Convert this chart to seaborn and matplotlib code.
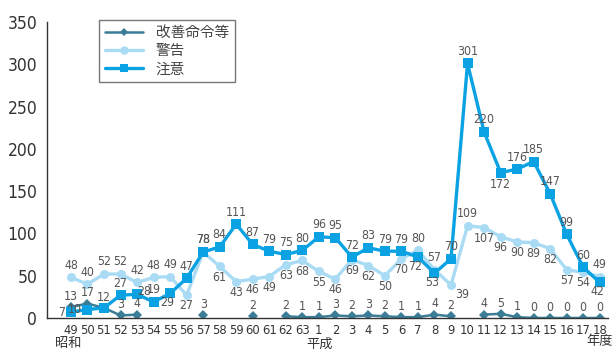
import numpy as np
import pandas as pd
import matplotlib
matplotlib.use("Agg")
import matplotlib.pyplot as plt
import seaborn as sns
from matplotlib import font_manager
from matplotlib.font_manager import FontProperties
from matplotlib.lines import Line2D

categories = ["49", "50", "51", "52", "53", "54", "55", "56", "57", "58", "59", "60", "61", "62", "63",
              "1", "2", "3", "4", "5", "6", "7", "8", "9", "10", "11", "12", "13", "14", "15", "16", "17", "18"]
kaizen = [13, 17, 12, 3, 4, None, None, None, 3, None, None, 2, None, 2, 1,
          1, 3, 2, 3, 2, 1, 1, 4, 2, None, 4, 5, 1, 0, 0, 0, 0, 0]
keikoku = [48, 40, 52, 52, 42, 48, 49, 27, 78, 61, 43, 46, 49, 63, 68,
           55, 46, 69, 62, 50, 70, 80, 57, 39, 109, 107, 96, 90, 89, 82, 57, 54, 49]
chui = [7, 10, 12, 27, 28, 19, 29, 47, 78, 84, 111, 87, 79, 75, 80,
        96, 95, 72, 83, 79, 79, 72, 53, 70, 301, 220, 172, 176, 185, 147, 99, 60, 42]
series_names = ["改善命令等", "警告", "注意"]
era_labels = ["昭和", "平成"]
unit_label = "年度"

sns.set_theme(style="white")
plt.rcParams["font.family"] = ["DejaVu Sans", "Noto Sans CJK JP"]

# find a narrow font for numbers
cands = []
for f in font_manager.fontManager.ttflist:
    nm = f.name
    fn = f.fname.lower()
    if "bold" in fn or "oblique" in fn or "italic" in fn or "mono" in fn:
        continue
    if nm == "Liberation Sans Narrow":
        cands.append((0, f.fname))
    elif "condensed" in fn or "narrow" in fn:
        cands.append((1, f.fname))
    elif nm == "Roboto" and "regular" in fn:
        cands.append((2, f.fname))
    elif nm == "Liberation Sans" and "regular" in fn:
        cands.append((3, f.fname))
cands.sort()
num_path = cands[0][1] if cands else None


def numfont(size):
    if num_path:
        return FontProperties(fname=num_path, size=size)
    return FontProperties(family="DejaVu Sans", size=size)


c_kai = "#3b7c96"
c_kei = "#a9dcf4"
c_chu = "#0aa2e2"

fig = plt.figure(figsize=(6.16, 3.52), dpi=100)
ax = fig.add_axes([47 / 616, 1 - 318 / 352, (608 - 47) / 616, (318 - 22) / 352])

x = np.arange(len(categories))
kai_arr = np.array([np.nan if v is None else v for v in kaizen], dtype=float)

seg = np.cumsum(np.isnan(kai_arr).astype(int))
df_kai = pd.DataFrame({"x": x, "y": kai_arr, "seg": seg}).dropna()

sns.lineplot(data=df_kai, x="x", y="y", units="seg", estimator=None, color=c_kai,
             marker="D", markersize=5, markeredgewidth=0, linewidth=1.8, ax=ax, sort=False)
sns.lineplot(x=x, y=keikoku, color=c_kei, marker="o", markersize=6.5, markeredgewidth=0,
             linewidth=2.4, ax=ax, sort=False)
sns.lineplot(x=x, y=chui, color=c_chu, marker="s", markersize=7, markeredgewidth=0,
             linewidth=2.4, ax=ax, sort=False)

ax.set_xlim(-1.45, len(categories) - 0.5)
ax.set_ylim(0, 350)
ax.set_yticks(np.arange(0, 351, 50))
ax.set_xticks(x)
ax.set_xticklabels(categories)
ax.set_xticks(np.arange(-0.5, len(categories), 1), minor=True)
ax.tick_params(axis="x", which="major", length=0, colors="#333333", pad=4)
ax.tick_params(axis="x", which="minor", length=4, direction="in", color="#333333", width=0.9)
ax.tick_params(axis="y", length=4, direction="in", colors="#333333", width=0.9, pad=7)
ax.set_xlabel("")
ax.set_ylabel("")
for s in ["top", "right"]:
    ax.spines[s].set_visible(False)
for s in ["left", "bottom"]:
    ax.spines[s].set_color("#333333")
    ax.spines[s].set_linewidth(1.0)

# fit the x tick label size so that two-digit labels fit the category width
renderer = fig.canvas.get_renderer()
spacing_px = ax.transData.transform((1, 0))[0] - ax.transData.transform((0, 0))[0]
tick_size = 12.0
while tick_size > 7:
    fp = numfont(tick_size)
    t = fig.text(0, 0, "88", fontproperties=fp)
    wpx = t.get_window_extent(renderer).width
    t.remove()
    if wpx <= spacing_px - 2.0:
        break
    tick_size -= 0.25
lab_size = tick_size * 0.95

for t in ax.get_xticklabels():
    t.set_fontproperties(numfont(tick_size))
for t in ax.get_yticklabels():
    t.set_fontproperties(numfont(12.5))

lab_kw = dict(textcoords="offset points", color="#555555",
              fontproperties=numfont(lab_size))
n = len(categories)
for i in x:
    k = kai_arr[i]
    has_k = not np.isnan(k)
    if has_k:
        ax.annotate(f"{int(k)}", (i, k), xytext=(0, 3), va="bottom", ha="center", **lab_kw)
    w = keikoku[i]
    c = chui[i]
    # 警告 label
    if w >= c or (w > 100 and c > 250):
        ax.annotate(f"{w}", (i, w), xytext=(0, 4), va="bottom", ha="center", **lab_kw)
    elif has_k and (w - k) < 40:
        ax.annotate(f"{w}", (i, w), xytext=(3, -2), va="top", ha="left", **lab_kw)
    else:
        ax.annotate(f"{w}", (i, w), xytext=(0, -3), va="top", ha="center", **lab_kw)
    # 注意 label
    if has_k and c == k:
        continue  # same value as the kaizen label right there
    close_k = has_k and abs(c - k) < 10
    local_min = 0 < i < n - 1 and c < chui[i - 1] and c < chui[i + 1] and chui[i - 1] - c > 40
    if close_k:
        ax.annotate(f"{c}", (i, c), xytext=(-4, 0), va="center", ha="right", **lab_kw)
    elif local_min:
        ax.annotate(f"{c}", (i, c), xytext=(0, -4), va="top", ha="center", **lab_kw)
    elif c >= w or (w - c) > 20:
        ax.annotate(f"{c}", (i, c), xytext=(0, 4), va="bottom", ha="center", **lab_kw)
    elif has_k and (c - k) < 30:
        ax.annotate(f"{c}", (i, c), xytext=(0, 2), va="center", ha="left", **lab_kw)
    else:
        ax.annotate(f"{c}", (i, c), xytext=(-2, -2), va="top", ha="center", **lab_kw)

cjk = ["Noto Sans CJK JP"]
fig.text(68 / 616, 1 - 344 / 352, era_labels[0], ha="center", va="center", fontsize=9.5,
         color="#333333", family=cjk)
fig.text(320 / 616, 1 - 344 / 352, era_labels[1], ha="center", va="center", fontsize=9.5,
         color="#333333", family=cjk)
fig.text(600 / 616, 1 - 342 / 352, unit_label, ha="center", va="center", fontsize=9.5,
         color="#333333", family=cjk)

handles = [
    Line2D([], [], color=c_kai, marker="D", markersize=4, markeredgewidth=0, linewidth=1.8),
    Line2D([], [], color=c_kei, marker="o", markersize=6, markeredgewidth=0, linewidth=2.4),
    Line2D([], [], color=c_chu, marker="s", markersize=6, markeredgewidth=0, linewidth=2.4),
]
leg = fig.legend(handles, series_names, loc="upper left", bbox_to_anchor=(99 / 616, 1 - 20 / 352),
                 frameon=True, fancybox=False, edgecolor="#555555",
                 prop={"family": cjk, "size": 10.5},
                 handlelength=2.6, labelspacing=0.3, borderpad=0.4, handletextpad=0.9,
                 borderaxespad=0)
leg.get_frame().set_linewidth(1.0)
for t in leg.get_texts():
    t.set_color("#444444")

fig.savefig("out.png", dpi=100)
